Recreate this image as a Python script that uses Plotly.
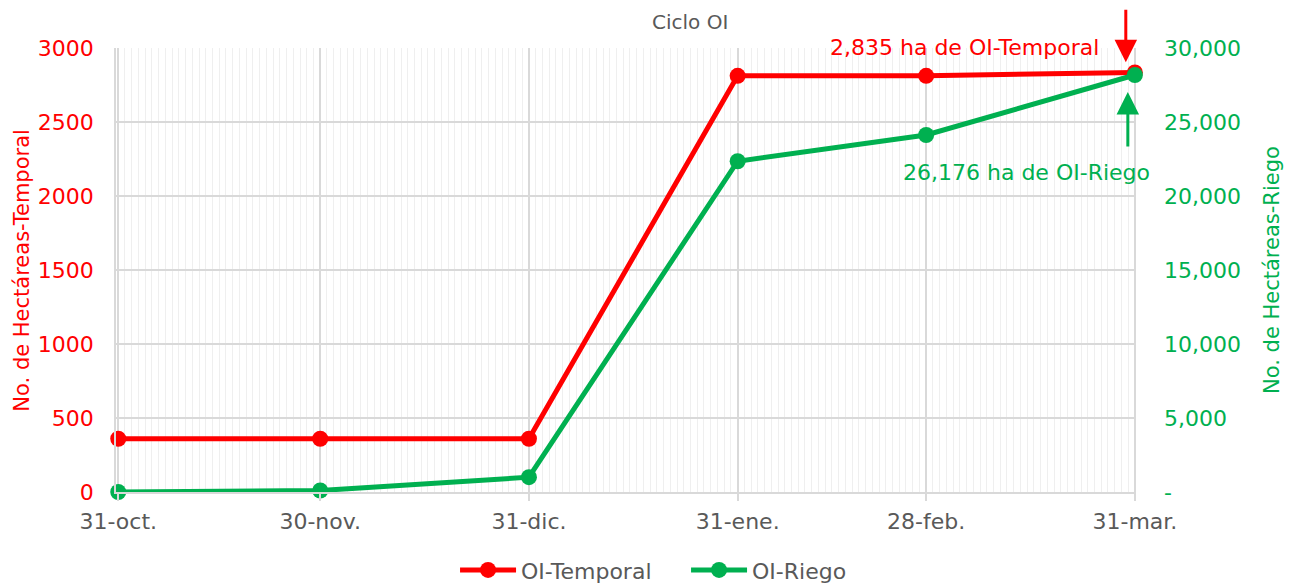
import plotly.graph_objects as go

# ---- data ----
dates = ["2024-10-31", "2024-11-30", "2024-12-31", "2025-01-31", "2025-02-28", "2025-03-31"]
tick_labels = ["31-oct.", "30-nov.", "31-dic.", "31-ene.", "28-feb.", "31-mar."]
temporal = [360, 360, 360, 2812, 2812, 2835]
riego = [0, 100, 1000, 22350, 24120, 28176]
y_left_ticks = [0, 500, 1000, 1500, 2000, 2500, 3000]
y_right_ticks = [0, 5000, 10000, 15000, 20000, 25000, 30000]
y_right_labels = ["-", "5,000", "10,000", "15,000", "20,000", "25,000", "30,000"]

RED = "#FF0000"
GREEN = "#00B050"
GRAY = "#595959"
FONT = "DejaVu Sans"
FS = 22

fig = go.Figure()
fig.add_trace(go.Scatter(
    x=dates, y=temporal, name="OI-Temporal", mode="lines+markers",
    line=dict(color=RED, width=5), marker=dict(color=RED, size=16),
    cliponaxis=False, yaxis="y"))
fig.add_trace(go.Scatter(
    x=dates, y=riego, name="OI-Riego", mode="lines+markers",
    line=dict(color=GREEN, width=5), marker=dict(color=GREEN, size=16),
    cliponaxis=False, yaxis="y2"))

# page body has an 8px margin, so the figure is a bit smaller than the window
fig.update_layout(
    width=1288, height=575,
    margin=dict(l=108, r=160, t=40, b=91, autoexpand=False),
    paper_bgcolor="white", plot_bgcolor="white",
    font=dict(family=FONT, color=GRAY, size=FS),
    showlegend=True,
    legend=dict(orientation="h", x=0.3324, xanchor="left", y=-0.176, yanchor="middle",
                font=dict(size=FS, color=GRAY), itemwidth=56,
                entrywidth=160, entrywidthmode="pixels"),
    xaxis=dict(
        type="date", automargin=False,
        range=["2024-10-30 16:00", "2025-03-31 04:00"],
        tickvals=dates, ticktext=tick_labels,
        tickfont=dict(size=FS, color=GRAY),
        showgrid=True, gridcolor="#d9d9d9", gridwidth=1.5,
        ticks="outside", ticklen=7, tickcolor="#d9d9d9", tickwidth=1.5,
        ticklabelstandoff=2,
        showline=True, linecolor="#d9d9d9", linewidth=1.5,
        minor=dict(dtick=86400000, tick0="2024-10-31", showgrid=True,
                   gridcolor="#efefef", gridwidth=1),
        zeroline=False,
    ),
    yaxis=dict(
        range=[0, 3000], tickvals=y_left_ticks, automargin=False,
        tickfont=dict(size=FS, color=RED),
        showgrid=True, gridcolor="#d9d9d9", gridwidth=1.5,
        showline=True, linecolor="#d9d9d9", linewidth=1.5,
        zeroline=False,
        ticklabelstandoff=16,
    ),
    yaxis2=dict(
        range=[0, 30000], tickvals=y_right_ticks, ticktext=y_right_labels,
        overlaying="y", side="right", automargin=False,
        tickfont=dict(size=FS, color=GREEN),
        showgrid=False, zeroline=False,
        ticklabelstandoff=27,
    ),
)

# axis titles
fig.add_annotation(text="No. de Hectáreas-Temporal", xref="paper", yref="paper",
                   x=-0.0925, y=0.5, xanchor="center", yanchor="middle", textangle=-90,
                   showarrow=False, font=dict(size=21, color=RED))
fig.add_annotation(text="No. de Hectáreas-Riego", xref="paper", yref="paper",
                   x=1.1333, y=0.5, xanchor="center", yanchor="middle", textangle=-90,
                   showarrow=False, font=dict(size=21, color=GREEN))

# chart title
fig.add_annotation(text="Ciclo OI", xref="paper", yref="paper", x=0.563, y=1,
                   xanchor="center", yanchor="top", yshift=40, showarrow=False,
                   font=dict(size=20, color=GRAY))

# labels
fig.add_annotation(text="2,835 ha de OI-Temporal", xref="paper", yref="paper",
                   x=0.832, y=1.002, xanchor="center", yanchor="middle", showarrow=False,
                   font=dict(size=FS, color=RED))
fig.add_annotation(text="26,176 ha de OI-Riego", xref="paper", yref="paper",
                   x=0.893, y=0.7185, xanchor="center", yanchor="middle", showarrow=False,
                   font=dict(size=FS, color=GREEN))

# arrows
fig.add_annotation(text="", xref="paper", yref="paper", x=0.990, y=0.968,
                   ax=0, ay=-54, showarrow=True, arrowhead=2, arrowsize=1.5,
                   arrowwidth=3, arrowcolor=RED, standoff=0)
fig.add_annotation(text="", xref="paper", yref="paper", x=0.992, y=0.901,
                   ax=0, ay=56, showarrow=True, arrowhead=2, arrowsize=1.5,
                   arrowwidth=3, arrowcolor=GREEN, standoff=0)

fig.write_html("out.html")
